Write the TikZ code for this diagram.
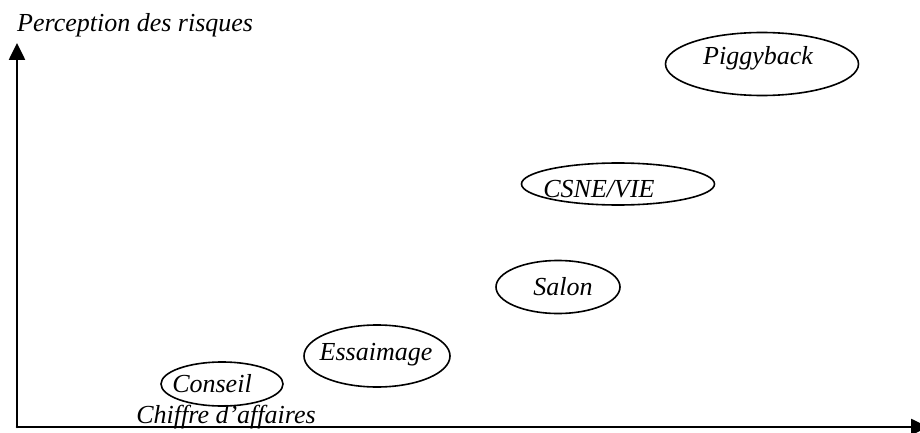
\documentclass[tikz,border=0pt]{standalone}
\usepackage{fontspec}
\setmainfont{Liberation Serif}
\usepackage{tkz-euclide}
\usetikzlibrary{arrows.meta,shapes.geometric}
\tikzset{oval/.style={ellipse,draw,line width=1.6pt,inner sep=0pt},
         lbl/.style={font=\fontsize{26}{30}\selectfont\itshape,inner sep=0pt,anchor=base}}
\begin{document}
\begin{tikzpicture}[x=1pt,y=1pt]
                    \useasboundingbox (0,0) rectangle (920,432);
                    \tkzDefPoints{17/5/O,17/389/Y,928/5/X}
                    \tkzDrawSegments[line width=2.6pt,-{Triangle[length=17pt,width=16pt]}](O,Y O,X)
                    \node[lbl,anchor=base west] (risques) at (17,400) {Perception des risques};
                    \node[lbl] (affaires) at (226,9) {Chiffre d'affaires};
                    \node[oval,minimum width=193pt,minimum height=63pt] (piggy) at (762,368) {};
                    \node[lbl] (piggyTxt) at (758,367) {Piggyback};
                    \node[oval,minimum width=193pt,minimum height=42pt] (csne) at (618,248) {};
                    \node[lbl] (csneTxt) at (599,235) {CSNE/VIE};
                    \node[oval,minimum width=124pt,minimum height=53pt] (salon) at (558,145) {};
                    \node[lbl] (salonTxt) at (563,137) {Salon};
                    \node[oval,minimum width=146pt,minimum height=62pt] (essai) at (377,76) {};
                    \node[lbl] (essaiTxt) at (376,72) {Essaimage};
                    \node[oval,minimum width=122pt,minimum height=44pt] (conseil) at (222,48) {};
                    \node[lbl] (conseilTxt) at (212,40) {Conseil};
                \end{tikzpicture}
\end{document}
